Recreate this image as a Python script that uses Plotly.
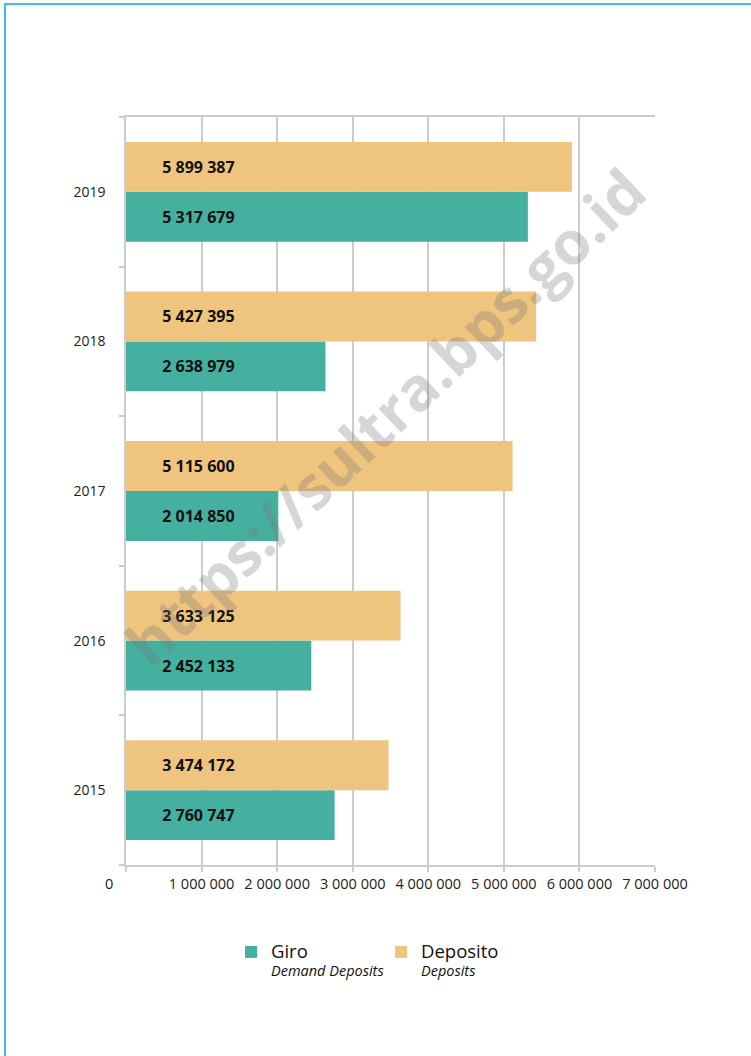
import plotly.graph_objects as go

years = ["2015", "2016", "2017", "2018", "2019"]
giro = [2760747, 2452133, 2014850, 2638979, 5317679]
deposito = [3474172, 3633125, 5115600, 5427395, 5899387]
x_tickvals = [0, 1000000, 2000000, 3000000, 4000000, 5000000, 6000000, 7000000]
x_ticktext = ["0\u00a0\u00a0\u00a0\u00a0\u00a0\u00a0\u00a0\u00a0\u00a0", "1 000 000", "2 000 000", "3 000 000",
              "4 000 000", "5 000 000", "6 000 000", "7 000 000"]

GIRO_C = "#45AFA0"
DEP_C = "#EFC47F"
FONT = "Open Sans"
PAD = "\u00a0" * 8


def fmt(v):
    return PAD + f"{v:,}".replace(",", " ")


def legend_name(main, sub):
    return f"<span style='font-size:18.5px'>{main}</span><br><i>{sub}</i>"


fig = go.Figure()
fig.add_trace(go.Bar(
    y=years, x=giro, orientation="h", name=legend_name("Giro", "Demand Deposits"),
    marker=dict(color=GIRO_C, line=dict(width=0)),
    text=[fmt(v) for v in giro], textposition="inside", insidetextanchor="start",
    textfont=dict(family=FONT, size=16, color="#111111", weight=700),
    cliponaxis=False,
))
fig.add_trace(go.Bar(
    y=years, x=deposito, orientation="h", name=legend_name("Deposito", "Deposits"),
    marker=dict(color=DEP_C, line=dict(width=0)),
    text=[fmt(v) for v in deposito], textposition="inside", insidetextanchor="start",
    textfont=dict(family=FONT, size=16, color="#111111", weight=700),
    cliponaxis=False,
))

# plot area geometry (pixels) for decoration placement
L, R, T, B = 126, 655, 117, 865
W, H = 751, 1056
pw, ph = R - L, B - T


def px_x(x):
    return (x - L) / pw


def px_y(y):
    return (B - y) / ph


fig.update_layout(
    width=W, height=H,
    margin=dict(l=L, r=W - R, t=T, b=H - B, pad=0),
    paper_bgcolor="white", plot_bgcolor="white",
    barmode="group", bargap=0.333, bargroupgap=0,
    uniformtext=dict(mode=False),
    font=dict(family=FONT, size=13, color="#222222"),
    xaxis=dict(
        range=[0, 7000000], tickvals=x_tickvals, ticktext=x_ticktext,
        showgrid=True, gridcolor="#CCCCCC", gridwidth=1.5,
        showline=True, linecolor="#CCCCCC", linewidth=1.5, mirror=True,
        ticks="outside", ticklen=5, tickcolor="#CCCCCC", tickwidth=1.5,
        tickfont=dict(size=14.5, color="#222222"),
        zeroline=False, fixedrange=True,
    ),
    yaxis=dict(
        categoryorder="array", categoryarray=years,
        showline=True, linecolor="#CCCCCC", linewidth=1.5,
        ticks="outside", ticklen=5, tickcolor="#CCCCCC", tickwidth=1.5,
        tickson="boundaries", ticklabelstandoff=16,
        tickfont=dict(size=14, color="#222222"),
        showgrid=False, zeroline=False, fixedrange=True,
    ),
    legend=dict(
        orientation="h", x=px_x(381), xanchor="center", y=px_y(936), yanchor="top",
        font=dict(family=FONT, size=14.5, color="#111111"),
        valign="top", traceorder="normal",
        itemwidth=30, entrywidth=105, entrywidthmode="pixels",
    ),
    showlegend=True,
    shapes=[
        dict(type="line", xref="paper", yref="paper", x0=px_x(5), x1=px_x(5), y0=px_y(4), y1=px_y(1060),
             line=dict(color="#3DBBF5", width=2)),
        dict(type="line", xref="paper", yref="paper", x0=px_x(4), x1=px_x(760), y0=px_y(4), y1=px_y(4),
             line=dict(color="#3DBBF5", width=2)),
    ],
    annotations=[
        dict(text="<b>https://sultra.bps.go.id</b>", xref="paper", yref="paper",
             x=px_x(385), y=px_y(416), xanchor="center", yanchor="middle",
             textangle=-43.5, showarrow=False,
             font=dict(family=FONT, size=60, color="rgba(120,120,120,0.3)")),
    ],
)

fig.write_html("out.html", config={"displayModeBar": False},
               post_script="document.body.style.margin='0';")
